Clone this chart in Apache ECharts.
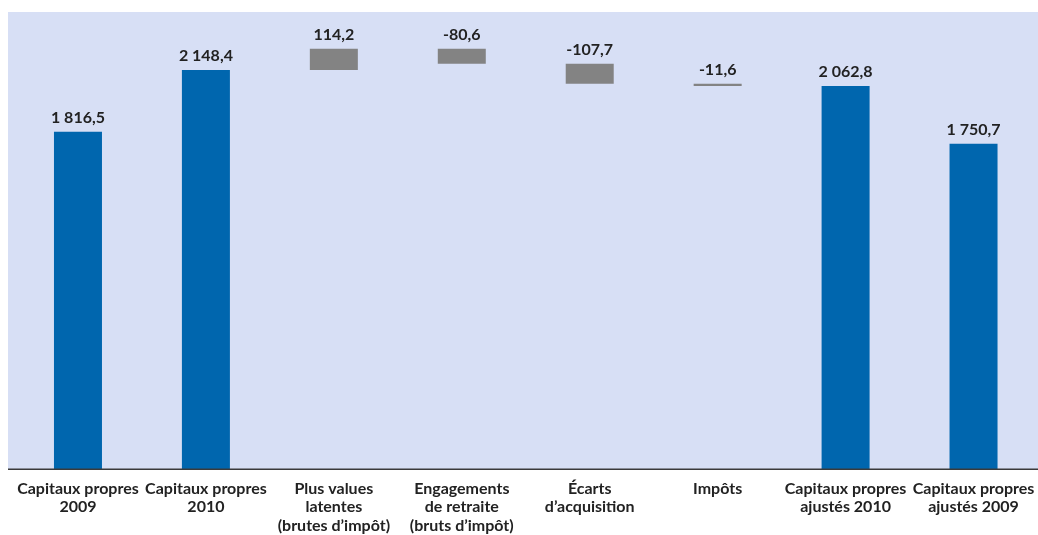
<!DOCTYPE html>
<html>
<head>
<meta charset="utf-8">
<script src="https://cdn.jsdelivr.net/npm/echarts@6/dist/echarts.min.js"></script>
<style>
  html, body { margin: 0; padding: 0; background: #ffffff; }
  #chart { width: 1038px; height: 535px; }
</style>
</head>
<body>
<div id="chart"></div>
<script>
// Bridge from 2010 equity to adjusted equity (€ millions)
const categories = [
  'Capitaux propres\n2009',
  'Capitaux propres\n2010',
  'Plus values\nlatentes\n(brutes d\u2019imp\u00f4t)',
  'Engagements\nde retraite\n(bruts d\u2019imp\u00f4t)',
  '\u00c9carts\nd\u2019acquisition',
  'Imp\u00f4ts',
  'Capitaux propres\najust\u00e9s 2010',
  'Capitaux propres\najust\u00e9s 2009'
];
const values = [1816.5, 2148.4, 114.2, -80.6, -107.7, -11.6, 2062.8, 1750.7];
// 'total' bars stand on zero; 'delta' bars float from the running level
const kinds = ['total', 'total', 'delta', 'delta', 'delta', 'delta', 'total', 'total'];

const FONT = 'Lato, "Open Sans", sans-serif';
const BLUE = '#0066ae';
const GREY = '#838383';

function frNumber(v) {
  const neg = v < 0;
  const parts = Math.abs(v).toFixed(1).split('.');
  const intPart = parts[0].replace(/\B(?=(\d{3})+(?!\d))/g, ' ');
  return (neg ? '-' : '') + intPart + ',' + parts[1];
}

// Build invisible offsets and visible heights for the waterfall
const baseData = [];
const barData = [];
let level = 0;
values.forEach((v, i) => {
  if (kinds[i] === 'total') {
    baseData.push(0);
    barData.push({ value: v, itemStyle: { color: BLUE } });
    level = v;
  } else {
    const start = level;
    const end = level + v;
    baseData.push(Math.min(start, end));
    barData.push({ value: Math.abs(v), itemStyle: { color: GREY } });
    level = end;
  }
});

const chart = echarts.init(document.getElementById('chart'), null, { renderer: 'canvas' });
chart.setOption({
  animation: false,
  backgroundColor: '#ffffff',
  graphic: [
    {
      type: 'rect',
      z: -10,
      silent: true,
      shape: { x: 8, y: 12, width: 1030, height: 457.3 },
      style: { fill: '#d7dff5' }
    },
    {
      type: 'line',
      z: 10,
      silent: true,
      shape: { x1: 8, y1: 469.3, x2: 1038, y2: 469.3 },
      style: { stroke: '#3a3a3a', lineWidth: 1.5 }
    }
  ],
  grid: { left: 14, right: 0.5, top: 4.7, bottom: 65.7, containLabel: false },
  xAxis: {
    type: 'category',
    data: categories,
    axisTick: { show: false },
    axisLine: { show: false },
    axisLabel: {
      interval: 0,
      margin: 10.5,
      color: '#222222',
      fontFamily: FONT,
      fontWeight: 'bold',
      fontSize: 16,
      lineHeight: 18.5
    }
  },
  yAxis: {
    type: 'value',
    min: 0,
    max: 2500,
    show: false,
    splitLine: { show: false }
  },
  series: [
    {
      type: 'bar',
      stack: 'wf',
      data: baseData,
      barWidth: 48,
      itemStyle: { color: 'transparent' },
      silent: true
    },
    {
      type: 'bar',
      stack: 'wf',
      data: barData,
      barWidth: 48,
      label: {
        show: true,
        position: 'top',
        distance: 6,
        color: '#222222',
        fontFamily: FONT,
        fontWeight: 'bold',
        fontSize: 16,
        formatter: p => frNumber(values[p.dataIndex])
      }
    }
  ]
});
</script>
</body>
</html>
